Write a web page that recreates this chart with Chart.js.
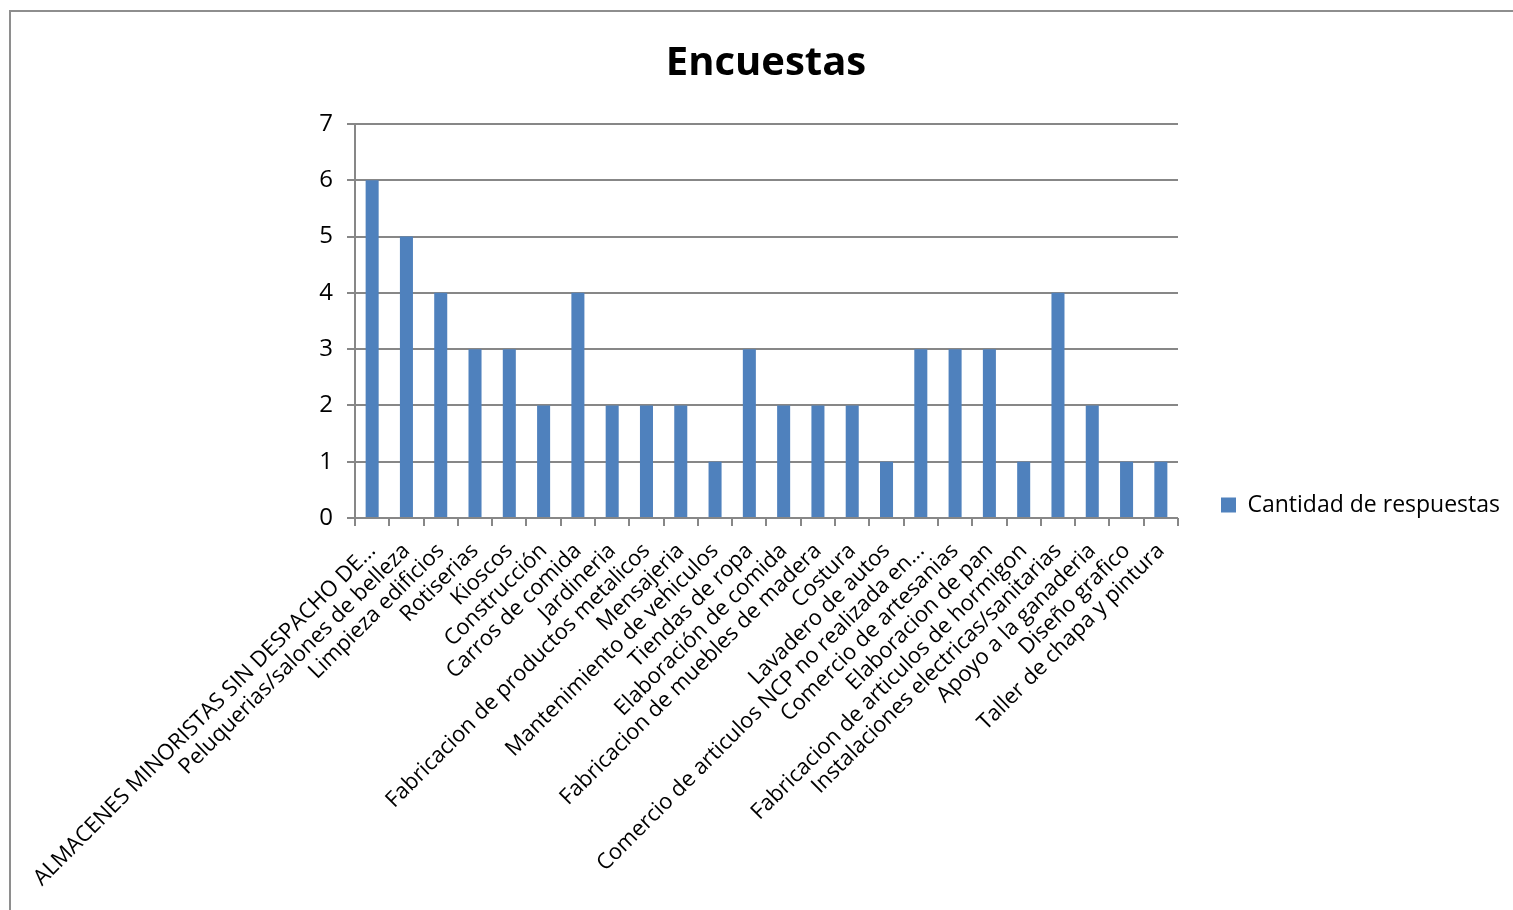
<!DOCTYPE html>
<html>
<head>
<meta charset="utf-8">
<script src="https://cdn.jsdelivr.net/npm/chart.js@4"></script>
<style>
    html, body { margin: 0; padding: 0; background: #fff; overflow: hidden; }
    #frame {
        position: absolute; left: 9px; top: 10px;
        width: 1600px; height: 1000px;
        border: 2px solid #8e8e8e;
    }
    #wrap { position: absolute; left: 0; top: 0; width: 1513px; height: 910px; }
</style>
</head>
<body>
<div id="frame"></div>
<div id="wrap"><canvas id="chart"></canvas></div>
<script>
// Survey categories (x axis)
const categories = [
    'ALMACENES MINORISTAS SIN DESPACHO DE...',
    'Peluquerias/salones de belleza',
    'Limpieza edificios',
    'Rotiserias',
    'Kioscos',
    'Construcción',
    'Carros de comida',
    'Jardineria',
    'Fabricacion de productos metalicos',
    'Mensajeria',
    'Mantenimiento de vehiculos',
    'Tiendas de ropa',
    'Elaboración de comida',
    'Fabricacion de muebles de madera',
    'Costura',
    'Lavadero de autos',
    'Comercio de articulos NCP no realizada en...',
    'Comercio de artesanias',
    'Elaboracion de pan',
    'Fabricacion de articulos de hormigon',
    'Instalaciones electricas/sanitarias',
    'Apoyo a la ganaderia',
    'Diseño grafico',
    'Taller de chapa y pintura'
];

// Number of answers per category
const respuestas = [6, 5, 4, 3, 3, 2, 4, 2, 2, 2, 1, 3, 2, 2, 2, 1, 3, 3, 3, 1, 4, 2, 1, 1];

// Y axis range
const yMin = 0;
const yMax = 7;
const yStep = 1;

const seriesLabel = 'Cantidad de respuestas';
const titleText = 'Encuestas';

const GRID = '#878787';
const BAR = '#4f81bd';
const FONT = "'Open Sans', sans-serif";

// Push the legend down so it sits level with the x axis, like the original
const legendNudge = {
    id: 'legendNudge',
    beforeDraw(chart) {
        if (chart.legend && !chart.legend._nudged) {
            chart.legend.top += 100;
            chart.legend._nudged = true;
        }
    }
};

const ctx = document.getElementById('chart').getContext('2d');

new Chart(ctx, {
    type: 'bar',
    data: {
        labels: categories,
        datasets: [{
            label: seriesLabel,
            data: respuestas,
            backgroundColor: BAR,
            borderWidth: 0,
            barPercentage: 0.38,
            categoryPercentage: 1
        }]
    },
    plugins: [legendNudge],
    options: {
        responsive: true,
        maintainAspectRatio: false,
        animation: false,
        layout: { padding: { left: 22, right: 3, top: 0, bottom: 0 } },
        plugins: {
            title: {
                display: true,
                text: titleText,
                color: '#000',
                font: { family: FONT, size: 40, weight: 'bold' },
                padding: { top: 40, bottom: 36 }
            },
            legend: {
                position: 'right',
                align: 'center',
                labels: {
                    color: '#000',
                    font: { family: FONT, size: 23 },
                    boxWidth: 15,
                    boxHeight: 15,
                    padding: 43
                }
            },
            tooltip: { enabled: false }
        },
        scales: {
            x: {
                grid: {
                    display: true,
                    offset: true,
                    drawOnChartArea: false,
                    drawTicks: true,
                    tickLength: 8,
                    color: GRID,
                    lineWidth: 2
                },
                border: { display: false },
                ticks: {
                    color: '#000',
                    font: { family: FONT, size: 22 },
                    autoSkip: false,
                    minRotation: 45,
                    maxRotation: 45,
                    padding: 12
                },
                afterFit: (scale) => {
                    scale.height = 392;
                    scale.paddingLeft = 0;
                    scale.paddingRight = 0;
                }
            },
            y: {
                min: yMin,
                max: yMax,
                grid: {
                    color: GRID,
                    lineWidth: 2,
                    tickLength: 8
                },
                border: { display: true, color: GRID, width: 2 },
                ticks: {
                    stepSize: yStep,
                    color: '#000',
                    font: { family: FONT, size: 24 },
                    padding: 14
                },
                afterFit: (scale) => {
                    scale.width = 333;
                    scale.paddingTop = 0;
                    scale.paddingBottom = 0;
                }
            }
        }
    }
});
</script>
</body>
</html>
